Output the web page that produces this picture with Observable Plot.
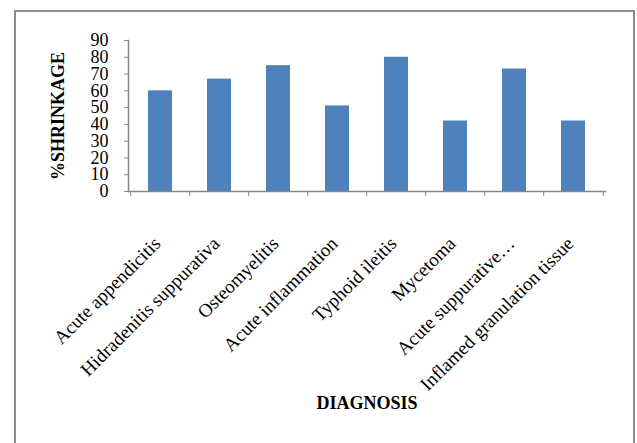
<!DOCTYPE html>
<html>
<head>
<meta charset="utf-8">
<script src="https://cdn.jsdelivr.net/npm/d3@7"></script>
<script src="https://cdn.jsdelivr.net/npm/@observablehq/plot@0.6"></script>
<style>
  body { margin: 0; background: #fff; }
  #wrap { position: relative; width: 637px; height: 443px; overflow: hidden; }
  #box { position: absolute; left: 14px; top: 10px; width: 617px; height: 480px;
         border: 2px solid #8c8c8c; pointer-events: none; }
</style>
</head>
<body>
<div id="wrap"></div>
<script>
// Shrinkage (%) by histological diagnosis
const categories = [
  "Acute appendicitis",
  "Hidradenitis suppurativa",
  "Osteomyelitis",
  "Acute inflammation",
  "Typhoid ileitis",
  "Mycetoma",
  "Acute suppurative…",
  "Inflamed granulation tissue"
];
const shrinkage = [60, 67, 75, 51, 80, 42, 73, 42];
const yTicks = [0, 10, 20, 30, 40, 50, 60, 70, 80, 90];

const data = categories.map((diagnosis, i) => ({diagnosis, shrinkage: shrinkage[i]}));

const W = 637, H = 443;
const mL = 128, mR = 32, mT = 40, mB = 252;
const step = (W - mL - mR) / categories.length;
const axisGray = "#868686";
const serif = "Liberation Serif, Times New Roman, serif";

const chart = Plot.plot({
  width: W,
  height: H,
  marginLeft: mL,
  marginRight: mR,
  marginTop: mT,
  marginBottom: mB,
  style: `font-family: ${serif}; font-size: 18px;`,
  x: {domain: categories, paddingInner: 0.6, paddingOuter: 0.3, axis: null},
  y: {domain: [0, 90], axis: null},
  marks: [
    Plot.barY(data, {x: "diagnosis", y: "shrinkage", fill: "#4f81bd"}),
    // value axis
    Plot.axisY({ticks: yTicks, tickSize: 4, tickPadding: 16, stroke: axisGray,
      fontFamily: serif, fontSize: 18, label: null}),
    // category boundary ticks
    Plot.axisX({ticks: categories, tickSize: 5, tickFormat: () => "", dx: -step / 2, stroke: axisGray, label: null}),
    Plot.axisX({ticks: categories.slice(-1), tickSize: 5, tickFormat: () => "", dx: step / 2, stroke: axisGray, label: null}),
    // rotated category labels
    Plot.axisX({tickSize: 0, tickPadding: 32, tickRotate: -45, dx: -3, dy: 17,
      fontFamily: serif, fontSize: 19, label: null}),
    // axis lines
    Plot.frame({anchor: "left", stroke: axisGray, strokeWidth: 1.5}),
    Plot.frame({anchor: "bottom", stroke: axisGray, strokeWidth: 1.5}),
    // axis titles
    Plot.text(["%SHRINKAGE"], {text: d => d, frameAnchor: "left", textAnchor: "middle", rotate: -90, dx: -70,
      fontFamily: serif, fontWeight: "bold", fontSize: 18}),
    Plot.text(["DIAGNOSIS"], {text: d => d, frameAnchor: "bottom", dy: 217,
      fontFamily: serif, fontWeight: "bold", fontSize: 18})
  ]
});

const wrap = document.getElementById("wrap");
wrap.append(chart);
const box = document.createElement("div");
box.id = "box";
wrap.append(box);
</script>
</body>
</html>
